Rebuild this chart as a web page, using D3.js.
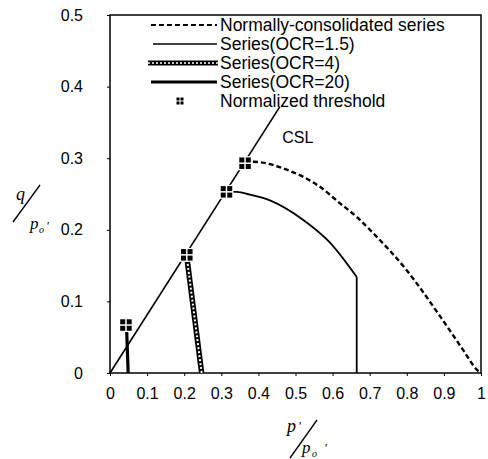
<!DOCTYPE html>
<html>
<head>
<meta charset="utf-8">
<script src="https://cdn.jsdelivr.net/npm/d3@7"></script>
<style>
  body { margin: 0; background: #fff; }
  svg text { font-family: Arial, "Liberation Sans", sans-serif; fill: #000; }
  .serif { font-family: "Times New Roman", "Liberation Serif", serif; font-style: italic; }
</style>
</head>
<body>
<div id="chart"></div>
<script>
// ticks
const xTicks = [0, 0.1, 0.2, 0.3, 0.4, 0.5, 0.6, 0.7, 0.8, 0.9, 1];
const xTickLabels = ["0", "0.1", "0.2", "0.3", "0.4", "0.5", "0.6", "0.7", "0.8", "0.9", "1"];
const yTicks = [0, 0.1, 0.2, 0.3, 0.4, 0.5];
const yTickLabels = ["0", "0.1", "0.2", "0.3", "0.4", "0.5"];

// CSL
const cslX = [0, 0.458];
const cslY = [0, 0.372];

// normally-consolidated (dashed)
const ncX = [0.364, 0.386, 0.476, 0.566, 0.62, 0.665, 0.71, 0.799, 0.89, 0.952, 0.99, 1];
const ncY = [0.293, 0.295, 0.284, 0.260, 0.237, 0.218, 0.195, 0.144, 0.079, 0.032, 0.004, 0];

// OCR = 1.5
const ocr15X = [0.314, 0.342, 0.377, 0.431, 0.52, 0.593, 0.665];
const ocr15Y = [0.253, 0.253, 0.249, 0.241, 0.214, 0.182, 0.134];

// OCR = 4
const ocr4X = [0.208, 0.247];
const ocr4Y = [0.158, 0];

// OCR = 20
const ocr20X = [0.045, 0.049];
const ocr20Y = [0.058, 0];

// normalized thresholds
const thrX = [0.043, 0.207, 0.314, 0.364];
const thrY = [0.067, 0.165, 0.253, 0.293];

const legendNames = ["Normally-consolidated series", "Series(OCR=1.5)", "Series(OCR=4)", "Series(OCR=20)", "Normalized threshold"];

const width = 488, height = 459;
const margin = {left: 110, right: 7, top: 15, bottom: 86};

const svg = d3.select("#chart").append("svg")
  .attr("width", width)
  .attr("height", height);

const x = d3.scaleLinear().domain([0, 1]).range([margin.left, width - margin.right]);
const y = d3.scaleLinear().domain([0, 0.5]).range([height - margin.bottom, margin.top]);

const zip = (xs, ys) => xs.map((v, i) => [v, ys[i]]);
const line = d3.line().x(d => x(d[0])).y(d => y(d[1]));
const curve = d3.line().x(d => x(d[0])).y(d => y(d[1])).curve(d3.curveMonotoneX);

// frame
svg.append("rect")
  .attr("x", x(0)).attr("y", y(0.5))
  .attr("width", x(1) - x(0)).attr("height", y(0) - y(0.5))
  .attr("fill", "none").attr("stroke", "#000").attr("stroke-width", 1.5);

// axes
const xAxis = d3.axisBottom(x).tickValues(xTicks)
  .tickFormat((d, i) => xTickLabels[i]).tickSize(3).tickPadding(12);
const gx = svg.append("g").attr("transform", `translate(0,${y(0)})`).call(xAxis);
gx.select(".domain").remove();
gx.selectAll("text").style("font-size", "16px").attr("font-family", null);

const yAxis = d3.axisLeft(y).tickValues(yTicks)
  .tickFormat((d, i) => yTickLabels[i]).tickSize(3).tickPadding(24);
const gy = svg.append("g").attr("transform", `translate(${x(0)},0)`).call(yAxis);
gy.select(".domain").remove();
gy.selectAll("text").style("font-size", "16px").attr("font-family", null);

// CSL
svg.append("path").attr("d", line(zip(cslX, cslY)))
  .attr("fill", "none").attr("stroke", "#000").attr("stroke-width", 1.6);
svg.append("text").attr("x", x(0.44) + 9).attr("y", y(0.32) - 1)
  .style("font-size", "16px").text("CSL");

// normally consolidated
svg.append("path").attr("d", curve(zip(ncX, ncY)))
  .attr("fill", "none").attr("stroke", "#000").attr("stroke-width", 2.4)
  .attr("stroke-dasharray", "5,3");

// OCR 1.5
const o15 = zip(ocr15X, ocr15Y);
svg.append("path").attr("d", curve(o15))
  .attr("fill", "none").attr("stroke", "#000").attr("stroke-width", 1.8);
const last15 = o15[o15.length - 1];
svg.append("path").attr("d", line([last15, [last15[0], 0]]))
  .attr("fill", "none").attr("stroke", "#000").attr("stroke-width", 1.8);

// OCR 4
const o4 = zip(ocr4X, ocr4Y);
svg.append("path").attr("d", line(o4))
  .attr("fill", "none").attr("stroke", "#000").attr("stroke-width", 5.5);
svg.append("path").attr("d", line(o4))
  .attr("fill", "none").attr("stroke", "#fff").attr("stroke-width", 2)
  .attr("stroke-dasharray", "2,2");

// OCR 20
svg.append("path").attr("d", line(zip(ocr20X, ocr20Y)))
  .attr("fill", "none").attr("stroke", "#000").attr("stroke-width", 3.2);

// threshold markers
function marker(g, cx, cy, s, gap) {
  [[-1, -1], [1, -1], [-1, 1], [1, 1]].forEach(([a, b]) => {
    g.append("rect")
      .attr("x", a < 0 ? cx - gap / 2 - s : cx + gap / 2)
      .attr("y", b < 0 ? cy - gap / 2 - s : cy + gap / 2)
      .attr("width", s).attr("height", s).attr("fill", "#000");
  });
}
const gm = svg.append("g");
zip(thrX, thrY).forEach(d => {
  gm.append("rect").attr("x", x(d[0]) - 7).attr("y", y(d[1]) - 7)
    .attr("width", 14).attr("height", 14).attr("fill", "#fff");
  marker(gm, x(d[0]), y(d[1]), 5, 1.5);
});

// legend
const lg = svg.append("g");
const rowY = [25, 44, 63, 82, 101];
const lx0 = 151, lx1 = 217;
legendNames.forEach((name, i) => {
  lg.append("text").attr("x", 220).attr("y", rowY[i] + 6)
    .style("font-size", "17.5px").text(name);
});
lg.append("line").attr("x1", lx0).attr("x2", lx1).attr("y1", rowY[0]).attr("y2", rowY[0])
  .attr("stroke", "#000").attr("stroke-width", 2).attr("stroke-dasharray", "5,3");
lg.append("line").attr("x1", lx0 + 2).attr("x2", lx1).attr("y1", rowY[1]).attr("y2", rowY[1])
  .attr("stroke", "#000").attr("stroke-width", 1.6);
lg.append("line").attr("x1", lx0 - 3).attr("x2", lx1 + 1).attr("y1", rowY[2]).attr("y2", rowY[2])
  .attr("stroke", "#000").attr("stroke-width", 5);
lg.append("line").attr("x1", lx0 - 3).attr("x2", lx1 + 1).attr("y1", rowY[2]).attr("y2", rowY[2])
  .attr("stroke", "#fff").attr("stroke-width", 1.6).attr("stroke-dasharray", "2,2");
lg.append("line").attr("x1", lx0).attr("x2", lx1).attr("y1", rowY[3]).attr("y2", rowY[3])
  .attr("stroke", "#000").attr("stroke-width", 3);
marker(lg, 180, rowY[4], 3, 1);

// axis titles
const ty = svg.append("g");
ty.append("text").attr("class", "serif").attr("x", 16).attr("y", 200).style("font-size", "18px").text("q");
ty.append("line").attr("x1", 13).attr("y1", 222).attr("x2", 40).attr("y2", 185)
  .attr("stroke", "#000").attr("stroke-width", 1.3);
ty.append("text").attr("class", "serif").attr("x", 30).attr("y", 229).style("font-size", "17px").text("p");
ty.append("text").attr("class", "serif").attr("x", 39).attr("y", 233).style("font-size", "10px").text("o");
ty.append("text").attr("class", "serif").attr("x", 46).attr("y", 230).style("font-size", "13px").text("'");

const tx = svg.append("g");
tx.append("text").attr("class", "serif").attr("x", 287).attr("y", 432).style("font-size", "18px").text("p");
tx.append("text").attr("class", "serif").attr("x", 298).attr("y", 430).style("font-size", "13px").text("'");
tx.append("line").attr("x1", 290).attr("y1", 458).attr("x2", 317).attr("y2", 420)
  .attr("stroke", "#000").attr("stroke-width", 1.3);
tx.append("text").attr("class", "serif").attr("x", 302).attr("y", 453).style("font-size", "17px").text("p");
tx.append("text").attr("class", "serif").attr("x", 312).attr("y", 457).style("font-size", "10px").text("o");
tx.append("text").attr("class", "serif").attr("x", 324).attr("y", 452).style("font-size", "13px").text("'");
</script>
</body>
</html>
